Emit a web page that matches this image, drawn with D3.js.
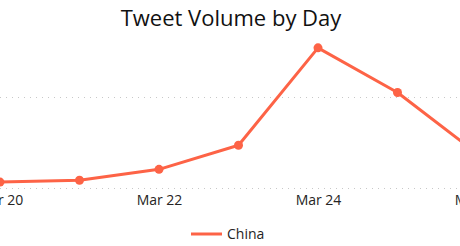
<!DOCTYPE html>
<html><head><meta charset="utf-8">
<script src="https://cdn.jsdelivr.net/npm/d3@7"></script>
<style>
html,body{margin:0;padding:0;background:#fff;overflow:hidden}
svg{display:block}
text{font-family:"Open Sans","Noto Sans",sans-serif}
</style></head><body>
<svg id="c" width="460" height="246"></svg>
<script>
const dates = ["2020-03-20","2020-03-21","2020-03-22","2020-03-23","2020-03-24","2020-03-25","2020-03-26"];
const values = [6.5, 8.5, 20.5, 47, 154, 105, 38];
const seriesName = "China";
const gridTicks = [0, 100];
const tickDates = ["2020-03-20","2020-03-22","2020-03-24","2020-03-26"];
const title = "Tweet Volume by Day";

const parse = d3.utcParse("%Y-%m-%d");
const data = dates.map((d,i)=>({date:parse(d), value:values[i]}));
const svg = d3.select("#c");
const color = "#fd6346";

const x = d3.scaleUtc().domain([parse("2020-03-20"), parse("2020-03-24")]).range([0, 318]);
const y = d3.scaleLinear().domain([0, 100]).range([188, 97]);

// grid
svg.append("g").selectAll("line").data(gridTicks).join("line")
  .attr("x1",0).attr("x2",460)
  .attr("y1",d=>y(d)+0.5).attr("y2",d=>y(d)+0.5)
  .attr("stroke","#c8c8c8").attr("stroke-width",1).attr("stroke-dasharray","1,5");

// x axis
const ax = svg.append("g").attr("transform","translate(0,195)")
  .call(d3.axisBottom(x).tickValues(tickDates.map(parse)).tickFormat(d3.utcFormat("%b %-d")).tickSize(0).tickPadding(0));
ax.select(".domain").remove();
ax.selectAll("text").attr("font-size",14).attr("fill","#252423").attr("dy","0.71em")
  .style("font-family",'"Open Sans","Noto Sans",sans-serif');

// line
const line = d3.line().x(d=>x(d.date)).y(d=>y(d.value));
svg.append("path").datum(data).attr("d",line).attr("fill","none")
  .attr("stroke",color).attr("stroke-width",3).attr("stroke-linejoin","round");
svg.append("g").selectAll("circle").data(data).join("circle")
  .attr("cx",d=>x(d.date)).attr("cy",d=>y(d.value)).attr("r",4.5).attr("fill",color);

// title
svg.append("text").attr("x",231).attr("y",26).attr("text-anchor","middle")
  .attr("font-size",22).attr("fill","#111").text(title);

// legend
const lg = svg.append("g").attr("transform","translate(191,234)");
lg.append("line").attr("x1",0).attr("x2",31).attr("y1",0).attr("y2",0).attr("stroke",color).attr("stroke-width",3);
lg.append("text").attr("x",36).attr("y",0).attr("dy","0.35em").attr("font-size",14).attr("fill","#252423").text(seriesName);
</script></body></html>
